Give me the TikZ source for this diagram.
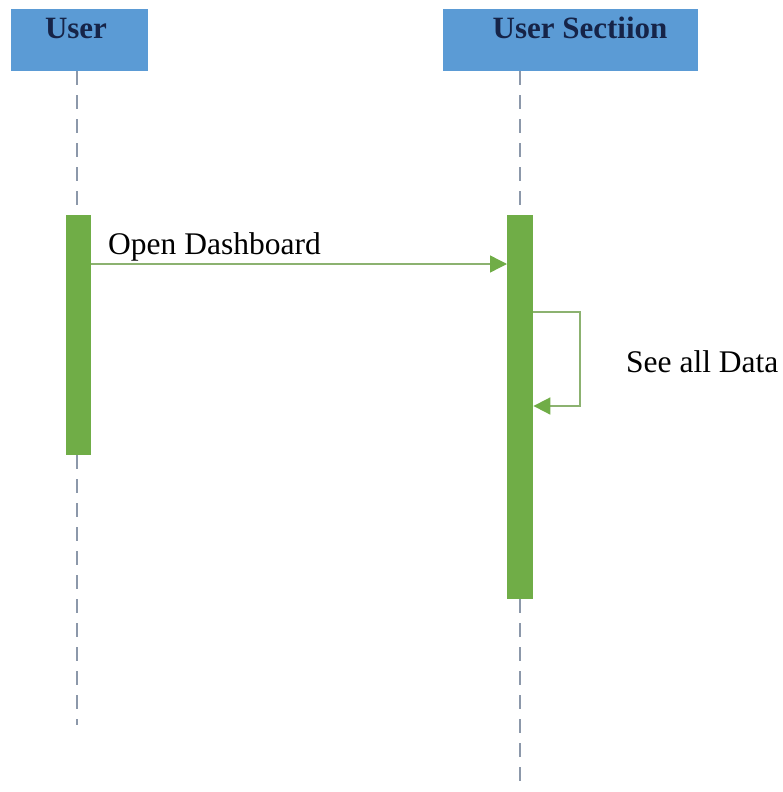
\documentclass[tikz,border=0pt]{standalone}
\usepackage{fontspec}
\setmainfont{Liberation Serif}
\usetikzlibrary{arrows.meta}
\definecolor{hdrfill}{RGB}{91,155,213}
\definecolor{hdrtext}{RGB}{22,36,72}
\definecolor{actgreen}{RGB}{112,173,71}
\definecolor{msgline}{RGB}{140,178,112}
\definecolor{lifeline}{RGB}{140,152,170}
\tikzset{
  header/.style={fill=hdrfill, draw=none, inner sep=0pt, anchor=north west},
  hdrlabel/.style={text=hdrtext, font=\fontsize{31}{36}\selectfont\bfseries, anchor=base},
  actbar/.style={fill=actgreen, draw=none, inner sep=0pt, anchor=north west},
  lifel/.style={draw=lifeline, line width=1.6pt, dash pattern=on 14pt off 10pt},
  msg/.style={draw=msgline, line width=1.4pt, -{Triangle[length=17pt,width=17pt,fill=actgreen,color=actgreen]}},
  msglabel/.style={font=\fontsize{31.5}{36}\selectfont, anchor=base west, inner sep=0pt, text=black}
}
\begin{document}
\begin{tikzpicture}[x=1pt,y=-1pt]
\useasboundingbox (0,0) rectangle (783,792);
% headers
\node[header, minimum width=137pt, minimum height=62pt] (h1) at (11,9) {};
\node[header, minimum width=255pt, minimum height=62pt] (h2) at (443,9) {};
\node[hdrlabel] (t1) at (76,39) {User};
\node[hdrlabel] (t2) at (580,39) {User Sectiion};
% lifeline ends
\coordinate (e1) at (77,725);
\coordinate (e2) at (520,786);
\draw[lifel] (h1.south -| e1) -- (e1);
\draw[lifel] (h2.south -| e2) -- (e2);
% activation bars
\node[actbar, minimum width=25pt, minimum height=240pt] (a1) at (66,215) {};
\node[actbar, minimum width=26pt, minimum height=384pt] (a2) at (507,215) {};
% message 1
\coordinate (m1) at (0,264);
\draw[msg] (a1.east |- m1) -- (a2.west |- m1);
\node[msglabel] (l1) at (108,254) {Open Dashboard};
% self message
\coordinate (s1) at (580,312);
\coordinate (s2) at (580,406);
\draw[msg, line width=1.8pt] (a2.east |- s1) -- (s1) -- (s2) -- (a2.east |- s2);
\node[msglabel] (l2) at (626,372) {See all Data};
\end{tikzpicture}
\end{document}
